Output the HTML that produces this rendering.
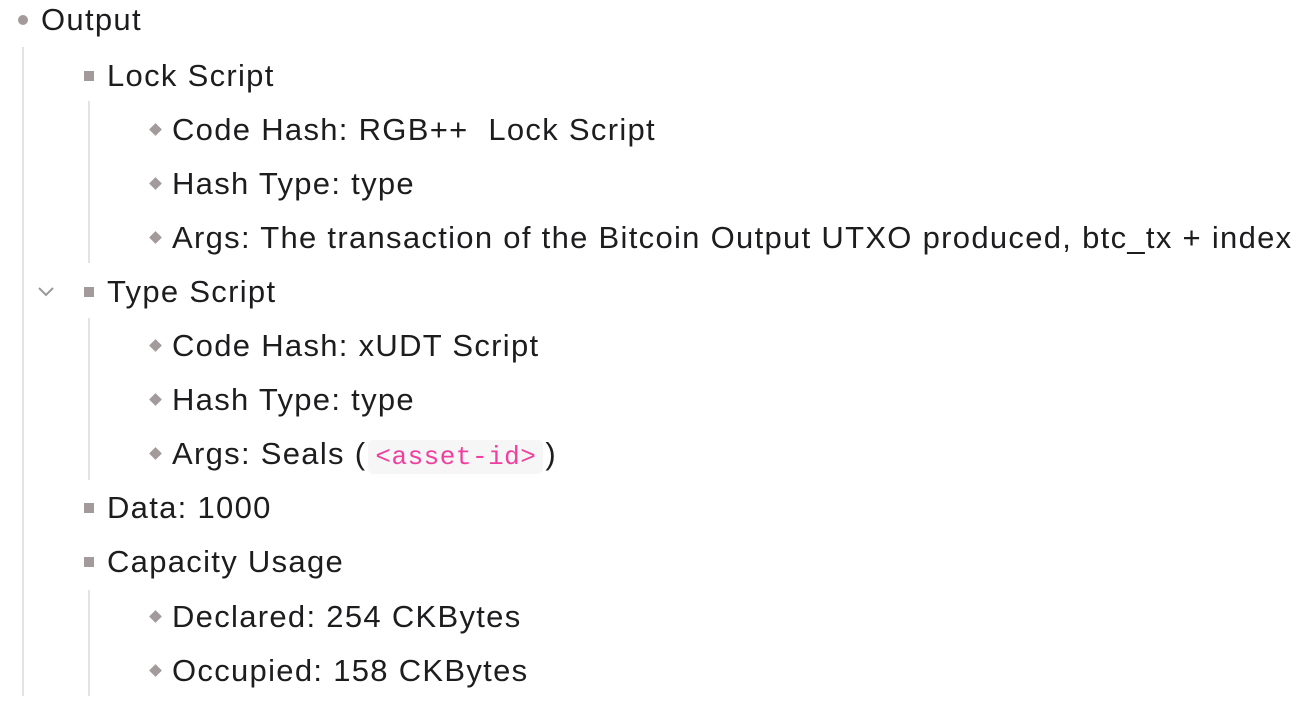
<!DOCTYPE html>
<html><head><meta charset="utf-8"><style>
body{margin:0;width:1310px;height:712px;background:#fff;position:relative;overflow:hidden;font-family:"Liberation Sans",sans-serif;color:#1d1d1f}
.t{position:absolute;font-size:31px;letter-spacing:1.3px;line-height:36px;white-space:nowrap;margin-top:1px}
.v{position:absolute;width:2px;background:#e3e3e3}
.c{position:absolute;width:10px;height:10px;border-radius:50%;background:#a39b9b}
.s{position:absolute;width:10px;height:10px;background:#a39b9b}
.d{position:absolute;width:9px;height:9px;background:#a39b9b;transform:rotate(45deg)}
code{font-family:"Liberation Mono",monospace;color:#ef3f9f;font-size:26px;letter-spacing:0.5px;background:#f6f6f6;border-radius:5px;padding:2px 7px;margin:0 2px}
</style></head><body>
<div class="v" style="left:22px;top:47px;height:649px"></div>
<div class="v" style="left:88px;top:101px;height:162px"></div>
<div class="v" style="left:88px;top:318px;height:162px"></div>
<div class="v" style="left:88px;top:590px;height:106px"></div>

<div class="c" style="left:18px;top:15px"></div><div class="t" style="left:41px;top:1px">Output</div>

<div class="s" style="left:84px;top:71px"></div><div class="t" style="left:107px;top:57px">Lock Script</div>
<div class="d" style="left:151px;top:125px"></div><div class="t" style="left:172px;top:111px">Code Hash: RGB++&nbsp; Lock Script</div>
<div class="d" style="left:151px;top:179px"></div><div class="t" style="left:172px;top:165px">Hash Type: type</div>
<div class="d" style="left:151px;top:233px"></div><div class="t" style="left:172px;top:219px">Args: The transaction of the Bitcoin Output UTXO produced, btc_tx + index</div>

<svg style="position:absolute;left:37px;top:286px" width="18" height="12"><polyline points="2,2 9,9 16,2" fill="none" stroke="#999" stroke-width="2"/></svg>
<div class="s" style="left:84px;top:287px"></div><div class="t" style="left:107px;top:273px">Type Script</div>
<div class="d" style="left:151px;top:341px"></div><div class="t" style="left:172px;top:327px">Code Hash: xUDT Script</div>
<div class="d" style="left:151px;top:395px"></div><div class="t" style="left:172px;top:381px">Hash Type: type</div>
<div class="d" style="left:151px;top:449px"></div><div class="t" style="left:172px;top:435px">Args: Seals (<code>&lt;asset-id&gt;</code>)</div>

<div class="s" style="left:84px;top:503px"></div><div class="t" style="left:107px;top:489px">Data: 1000</div>
<div class="s" style="left:84px;top:557px"></div><div class="t" style="left:107px;top:543px">Capacity Usage</div>
<div class="d" style="left:151px;top:612px"></div><div class="t" style="left:172px;top:598px">Declared: 254 CKBytes</div>
<div class="d" style="left:151px;top:666px"></div><div class="t" style="left:172px;top:652px">Occupied: 158 CKBytes</div>
</body></html>
